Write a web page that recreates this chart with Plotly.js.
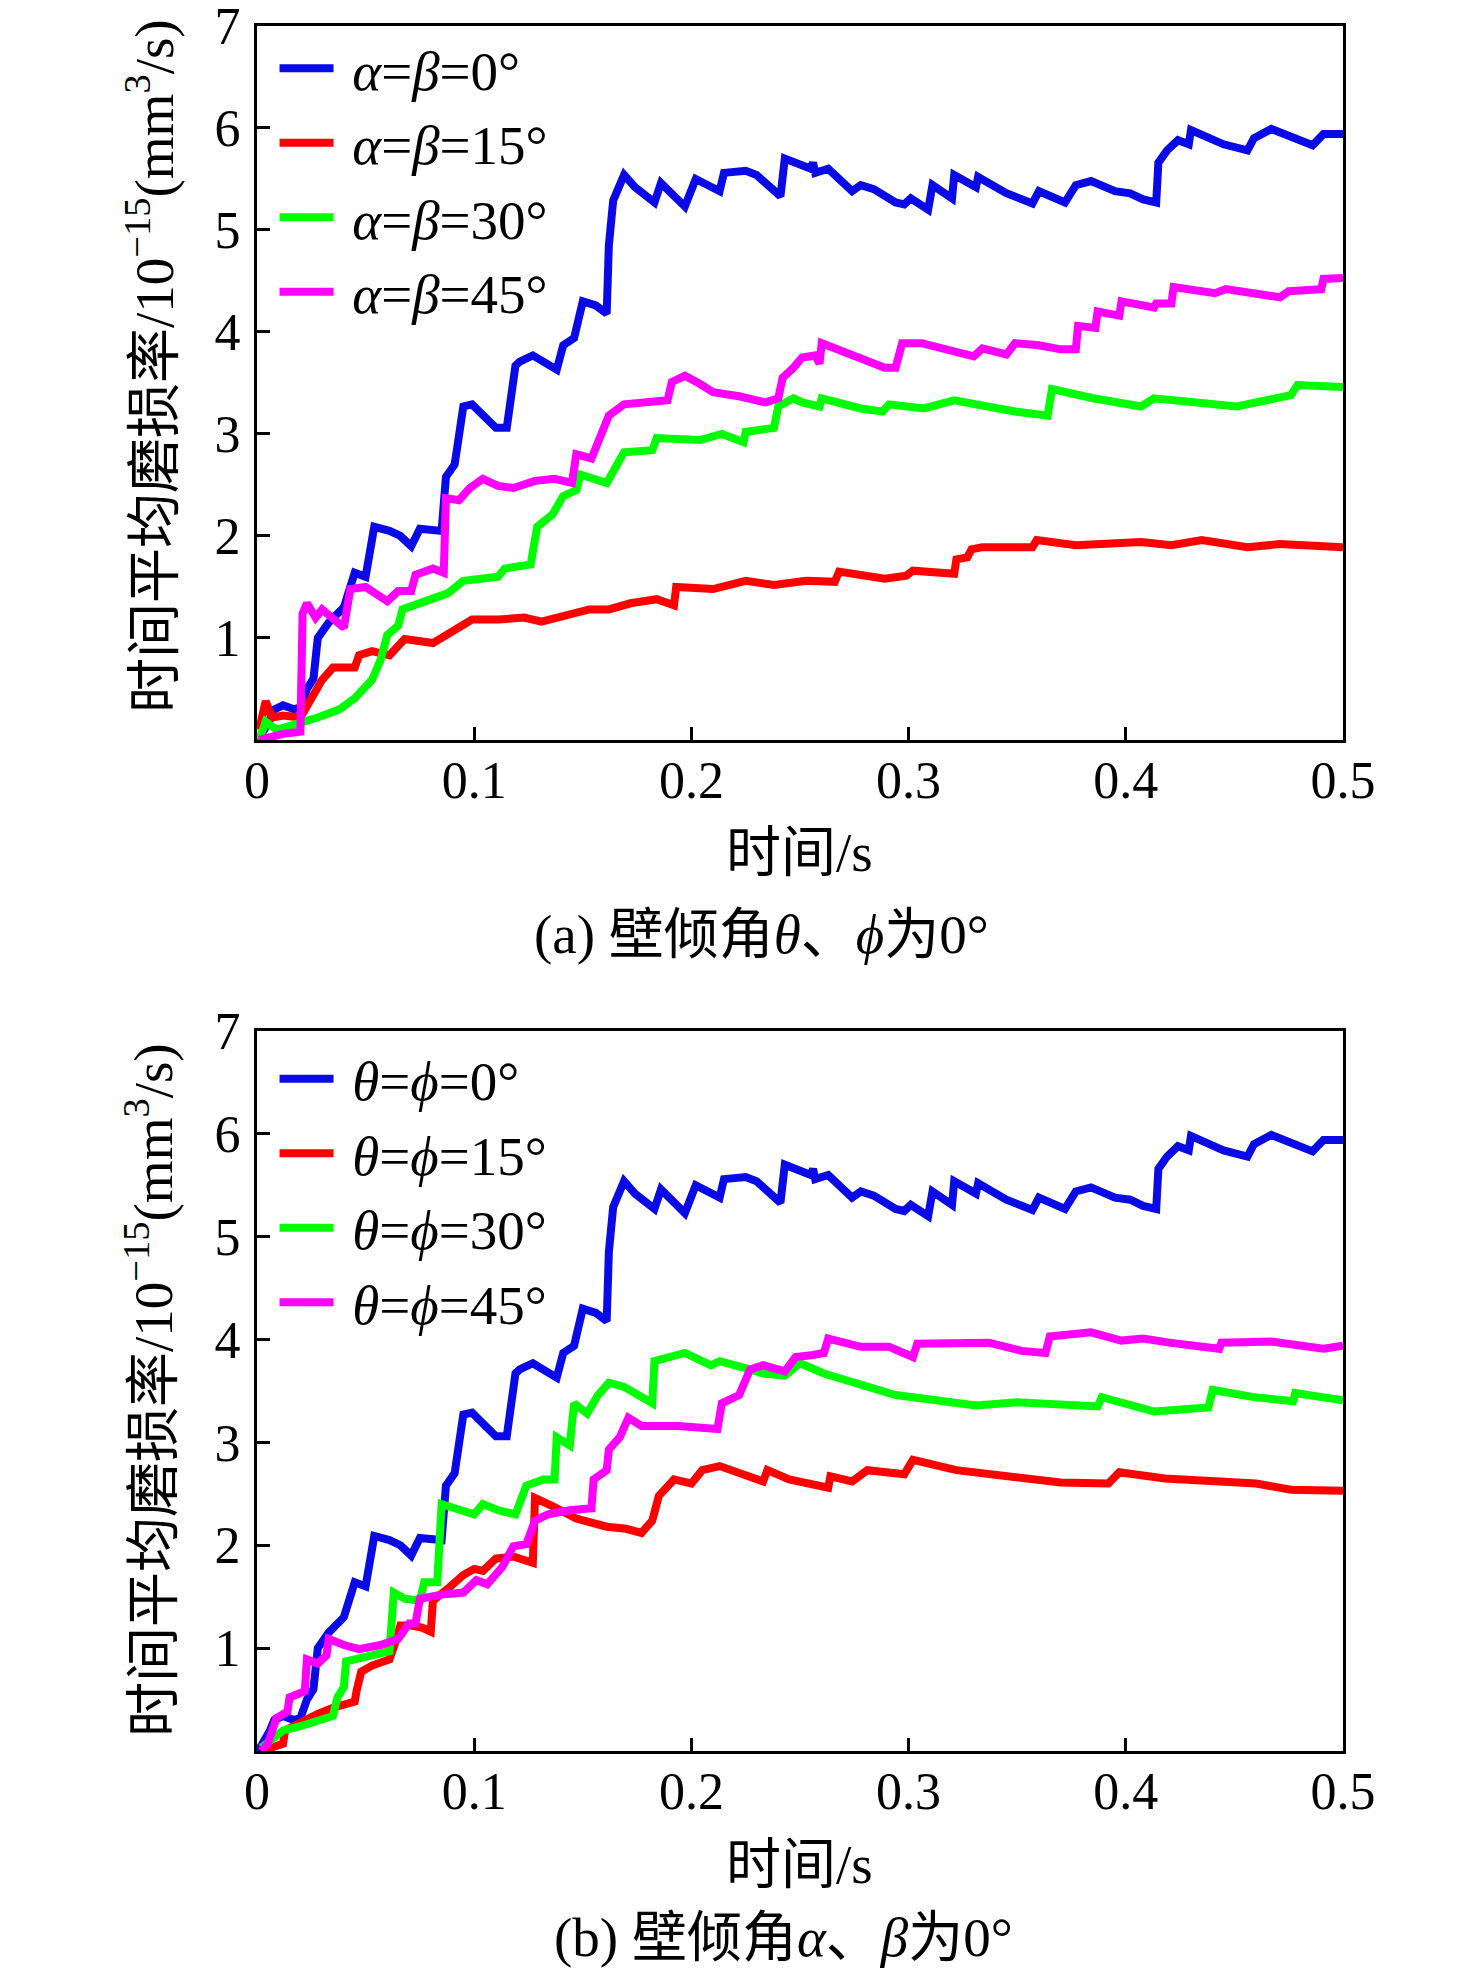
<!DOCTYPE html>
<html>
<head>
<meta charset="utf-8">
<script src="https://cdn.plot.ly/plotly-3.0.1.min.js"></script>
<style>
  html, body { margin: 0; padding: 0; background: #fff; }
</style>
</head>
<body>
<div id="graph" style="width:1476px;height:1968px;"></div>
<script>
// baseline case (all wall angles 0) - same curve in both panels
var t_base = [0,0.002,0.006,0.008,0.012,0.017,0.020,0.023,0.026,0.028,0.033,0.040,0.045,0.050,0.054,0.061,0.066,0.071,0.075,0.085,0.087,0.091,0.095,0.099,0.110,0.115,0.119,0.121,0.127,0.133,0.138,0.141,0.146,0.150,0.156,0.161,0.162,0.164,0.169,0.174,0.179,0.183,0.186,0.191,0.197,0.202,0.209,0.213,0.215,0.225,0.230,0.241,0.243,0.250,0.255,0.256,0.257,0.263,0.274,0.278,0.284,0.294,0.298,0.301,0.309,0.311,0.320,0.321,0.331,0.332,0.345,0.357,0.360,0.372,0.377,0.384,0.395,0.402,0.408,0.414,0.415,0.419,0.424,0.429,0.430,0.445,0.456,0.459,0.467,0.486,0.491,0.500];
var v_base = [0,0.05,0.2,0.3,0.34,0.3,0.32,0.5,0.6,1.0,1.15,1.3,1.64,1.6,2.09,2.05,2.0,1.9,2.07,2.05,2.58,2.7,3.27,3.29,3.06,3.06,3.67,3.71,3.77,3.69,3.63,3.87,3.94,4.3,4.26,4.18,4.85,5.29,5.54,5.42,5.33,5.27,5.46,5.36,5.23,5.5,5.42,5.38,5.56,5.58,5.54,5.33,5.7,5.64,5.6,5.66,5.56,5.6,5.38,5.44,5.4,5.27,5.25,5.31,5.2,5.44,5.31,5.54,5.42,5.52,5.36,5.26,5.38,5.27,5.44,5.48,5.38,5.36,5.3,5.27,5.66,5.78,5.88,5.84,5.98,5.84,5.78,5.9,5.99,5.83,5.94,5.94];

// panel (a): alpha = beta
var t_a15 = [0.001,0.002,0.004,0.007,0.012,0.020,0.026,0.030,0.035,0.045,0.047,0.053,0.061,0.068,0.081,0.091,0.099,0.111,0.123,0.131,0.144,0.153,0.162,0.172,0.184,0.192,0.193,0.210,0.225,0.238,0.253,0.266,0.268,0.289,0.299,0.302,0.321,0.322,0.327,0.329,0.334,0.357,0.359,0.377,0.407,0.421,0.435,0.456,0.471,0.500];
var v_a15 = [0.1,0.18,0.38,0.22,0.24,0.22,0.43,0.59,0.71,0.71,0.83,0.87,0.83,0.99,0.95,1.08,1.18,1.18,1.2,1.16,1.24,1.28,1.28,1.34,1.38,1.32,1.5,1.48,1.56,1.52,1.56,1.55,1.65,1.58,1.61,1.66,1.63,1.77,1.79,1.87,1.89,1.89,1.96,1.91,1.94,1.91,1.96,1.89,1.92,1.89];

var t_a30 = [0.001,0.002,0.004,0.009,0.020,0.028,0.038,0.045,0.053,0.057,0.060,0.065,0.067,0.078,0.088,0.095,0.111,0.114,0.126,0.129,0.136,0.141,0.147,0.149,0.161,0.169,0.182,0.184,0.204,0.214,0.224,0.225,0.238,0.240,0.247,0.251,0.259,0.260,0.278,0.288,0.291,0.307,0.321,0.349,0.364,0.366,0.385,0.407,0.413,0.451,0.459,0.476,0.479,0.500];
var v_a30 = [0,0.06,0.18,0.1,0.16,0.22,0.3,0.41,0.59,0.79,1.03,1.12,1.28,1.36,1.44,1.56,1.6,1.68,1.72,2.09,2.21,2.39,2.45,2.6,2.52,2.82,2.84,2.96,2.94,3.0,2.92,3.02,3.06,3.27,3.35,3.31,3.27,3.35,3.25,3.22,3.29,3.25,3.33,3.22,3.18,3.44,3.35,3.27,3.35,3.27,3.31,3.38,3.48,3.46];

var t_a45 = [0.001,0.012,0.020,0.021,0.023,0.027,0.030,0.035,0.040,0.043,0.050,0.060,0.065,0.071,0.073,0.081,0.086,0.087,0.093,0.098,0.104,0.111,0.118,0.128,0.137,0.145,0.147,0.154,0.159,0.162,0.169,0.177,0.189,0.191,0.197,0.204,0.210,0.222,0.234,0.240,0.242,0.247,0.251,0.257,0.259,0.260,0.278,0.289,0.294,0.297,0.306,0.319,0.330,0.334,0.345,0.349,0.360,0.370,0.377,0.378,0.386,0.387,0.397,0.398,0.413,0.414,0.421,0.422,0.441,0.446,0.471,0.475,0.490,0.491,0.500];
var v_a45 = [0,0.06,0.08,1.24,1.34,1.2,1.28,1.18,1.1,1.48,1.5,1.36,1.46,1.46,1.62,1.68,1.64,2.37,2.35,2.47,2.56,2.49,2.47,2.54,2.56,2.52,2.8,2.76,3.02,3.18,3.29,3.31,3.33,3.51,3.57,3.49,3.41,3.37,3.31,3.35,3.55,3.65,3.75,3.77,3.69,3.89,3.73,3.65,3.65,3.89,3.89,3.81,3.76,3.84,3.78,3.89,3.87,3.83,3.83,4.06,4.04,4.2,4.16,4.3,4.24,4.28,4.28,4.44,4.38,4.42,4.34,4.4,4.42,4.52,4.53];

// panel (b): theta = phi
var t_b15 = [0.002,0.012,0.013,0.020,0.028,0.035,0.042,0.045,0.046,0.048,0.053,0.061,0.063,0.066,0.071,0.076,0.080,0.081,0.088,0.095,0.100,0.104,0.110,0.118,0.127,0.128,0.136,0.147,0.161,0.170,0.177,0.182,0.185,0.192,0.200,0.205,0.213,0.233,0.235,0.245,0.263,0.264,0.274,0.281,0.298,0.302,0.322,0.344,0.370,0.392,0.397,0.418,0.460,0.476,0.500];
var v_b15 = [0,0.07,0.2,0.28,0.36,0.42,0.46,0.48,0.6,0.77,0.83,0.89,1.01,1.22,1.22,1.2,1.16,1.46,1.58,1.71,1.77,1.75,1.87,1.89,1.83,2.46,2.38,2.26,2.18,2.16,2.12,2.24,2.48,2.64,2.6,2.73,2.77,2.62,2.73,2.64,2.56,2.67,2.62,2.73,2.69,2.83,2.73,2.67,2.61,2.6,2.71,2.65,2.6,2.54,2.53];

var t_b30 = [0.002,0.012,0.020,0.028,0.035,0.037,0.040,0.041,0.050,0.061,0.063,0.068,0.075,0.077,0.083,0.085,0.091,0.100,0.104,0.111,0.119,0.124,0.132,0.137,0.138,0.144,0.146,0.152,0.157,0.162,0.169,0.182,0.183,0.190,0.197,0.209,0.213,0.227,0.233,0.243,0.250,0.261,0.278,0.294,0.302,0.319,0.331,0.350,0.375,0.387,0.389,0.413,0.438,0.440,0.459,0.477,0.478,0.500];
var v_b30 = [0.03,0.2,0.24,0.3,0.34,0.52,0.62,0.87,0.91,0.97,1.54,1.48,1.46,1.64,1.64,2.4,2.36,2.3,2.4,2.34,2.3,2.58,2.64,2.64,3.05,2.97,3.38,3.28,3.46,3.58,3.54,3.38,3.79,3.83,3.87,3.75,3.79,3.71,3.67,3.65,3.77,3.67,3.56,3.46,3.44,3.4,3.36,3.39,3.35,3.35,3.44,3.3,3.34,3.51,3.44,3.4,3.48,3.41];

var t_b45 = [0.002,0.005,0.009,0.014,0.015,0.022,0.023,0.028,0.032,0.033,0.040,0.047,0.057,0.065,0.070,0.073,0.075,0.085,0.095,0.101,0.106,0.113,0.118,0.124,0.128,0.134,0.144,0.154,0.155,0.161,0.162,0.167,0.171,0.177,0.194,0.207,0.212,0.214,0.222,0.227,0.233,0.243,0.248,0.256,0.261,0.263,0.278,0.291,0.302,0.304,0.315,0.337,0.352,0.363,0.365,0.384,0.398,0.408,0.420,0.443,0.444,0.467,0.491,0.500];
var v_b45 = [0,0.07,0.32,0.38,0.52,0.58,0.89,0.85,0.93,1.09,1.03,0.99,1.03,1.09,1.24,1.24,1.48,1.52,1.54,1.66,1.62,1.79,1.99,2.01,2.24,2.3,2.34,2.36,2.64,2.73,2.93,3.05,3.24,3.16,3.16,3.13,3.13,3.38,3.46,3.71,3.75,3.69,3.83,3.85,3.87,4.01,3.93,3.93,3.83,3.96,3.96,3.97,3.89,3.87,4.03,4.07,3.99,4.01,3.97,3.91,3.97,3.98,3.91,3.94];

var names_a = ['<i>α</i>=<i>β</i>=0°', '<i>α</i>=<i>β</i>=15°', '<i>α</i>=<i>β</i>=30°', '<i>α</i>=<i>β</i>=45°'];
var names_b = ['<i>θ</i>=<i>ϕ</i>=0°', '<i>θ</i>=<i>ϕ</i>=15°', '<i>θ</i>=<i>ϕ</i>=30°', '<i>θ</i>=<i>ϕ</i>=45°'];
var colors = ['#0a0ae6', '#ff0000', '#00ff00', '#ff00ff'];

var FONT = "'Liberation Serif', 'Noto Sans CJK SC', serif";

function mkTrace(t, v, i, panel) {
  return {
    x: t,
    y: v,
    mode: 'lines',
    name: '\u00a0' + (panel == 1 ? names_a[i] : names_b[i]),
    legendgroup: 'p' + panel + '_' + i,
    legend: panel == 1 ? 'legend' : 'legend2',
    xaxis: panel == 1 ? 'x' : 'x2',
    yaxis: panel == 1 ? 'y' : 'y2',
    line: {color: colors[i], width: 8},
    hoverinfo: 'skip'
  };
}

var data = [
  mkTrace(t_base, v_base, 0, 1),
  mkTrace(t_a15, v_a15, 1, 1),
  mkTrace(t_a30, v_a30, 2, 1),
  mkTrace(t_a45, v_a45, 3, 1),
  mkTrace(t_base, v_base, 0, 2),
  mkTrace(t_b15, v_b15, 1, 2),
  mkTrace(t_b30, v_b30, 2, 2),
  mkTrace(t_b45, v_b45, 3, 2)
];

var xticks = [0, 0.1, 0.2, 0.3, 0.4, 0.5];
var xticktext = ['0', '0.1', '0.2', '0.3', '0.4', '0.5'];
var yticks = [1, 2, 3, 4, 5, 6, 7];

function xax(anchor) {
  return {
    domain: [0.1741, 0.9099], range: [0, 0.5], anchor: anchor,
    showline: true, mirror: true, linewidth: 3, linecolor: '#000',
    ticks: 'inside', ticklen: 13, tickwidth: 3, tickcolor: '#000',
    tickvals: xticks, ticktext: xticktext,
    tickfont: {family: FONT, size: 52, color: '#000'},
    ticklabeloverflow: 'allow', ticklabelstandoff: -7,
    showgrid: false, zeroline: false, fixedrange: true
  };
}
function yax(anchor, dom) {
  return {
    domain: dom, range: [0, 7], anchor: anchor,
    showline: true, mirror: true, linewidth: 3, linecolor: '#000',
    ticks: 'inside', ticklen: 13, tickwidth: 3, tickcolor: '#000',
    tickvals: yticks,
    tickfont: {family: FONT, size: 52, color: '#000'},
    ticklabeloverflow: 'allow', ticklabelstandoff: 3,
    showgrid: false, zeroline: false, fixedrange: true
  };
}

var ytitle = '时间平均磨损率/10<sup>−15</sup>(mm<sup>3</sup>/s)';
var txt = {family: FONT, size: 55, color: '#000'};

function note(text, x, y, angle) {
  return {text: text, xref: 'paper', yref: 'paper', x: x, y: y,
          xanchor: 'center', yanchor: 'middle', textangle: angle || 0,
          showarrow: false, font: txt};
}

var layout = {
  width: 1476,
  height: 1968,
  margin: {l: 0, r: 0, t: 0, b: 0},
  paper_bgcolor: '#fff',
  plot_bgcolor: '#fff',
  font: {family: FONT, color: '#000'},
  xaxis: xax('y'),
  yaxis: yax('x', [0.624, 0.9868]),
  xaxis2: xax('y2'),
  yaxis2: yax('x2', [0.1103, 0.4761]),
  legend: {
    x: 0.186, y: 0.9868, xanchor: 'left', yanchor: 'top',
    bgcolor: 'rgba(0,0,0,0)', font: {family: FONT, size: 55, color: '#000'},
    tracegroupgap: 0, itemwidth: 54
  },
  legend2: {
    x: 0.186, y: 0.4733, xanchor: 'left', yanchor: 'top',
    bgcolor: 'rgba(0,0,0,0)', font: {family: FONT, size: 55, color: '#000'},
    tracegroupgap: 0, itemwidth: 54
  },
  annotations: [
    note(ytitle, 0.1016, 0.814, -90),
    note(ytitle, 0.1016, 0.2937, -90),
    note('时间/s', 0.542, 0.5666),
    note('时间/s', 0.542, 0.0528),
    note('(a) 壁倾角<i>θ</i>、<i>ϕ</i>为0°', 0.516, 0.525),
    note('(b) 壁倾角<i>α</i>、<i>β</i>为0°', 0.5305, 0.01575)
  ]
};

Plotly.newPlot('graph', data, layout, {staticPlot: true});
</script>
</body>
</html>
